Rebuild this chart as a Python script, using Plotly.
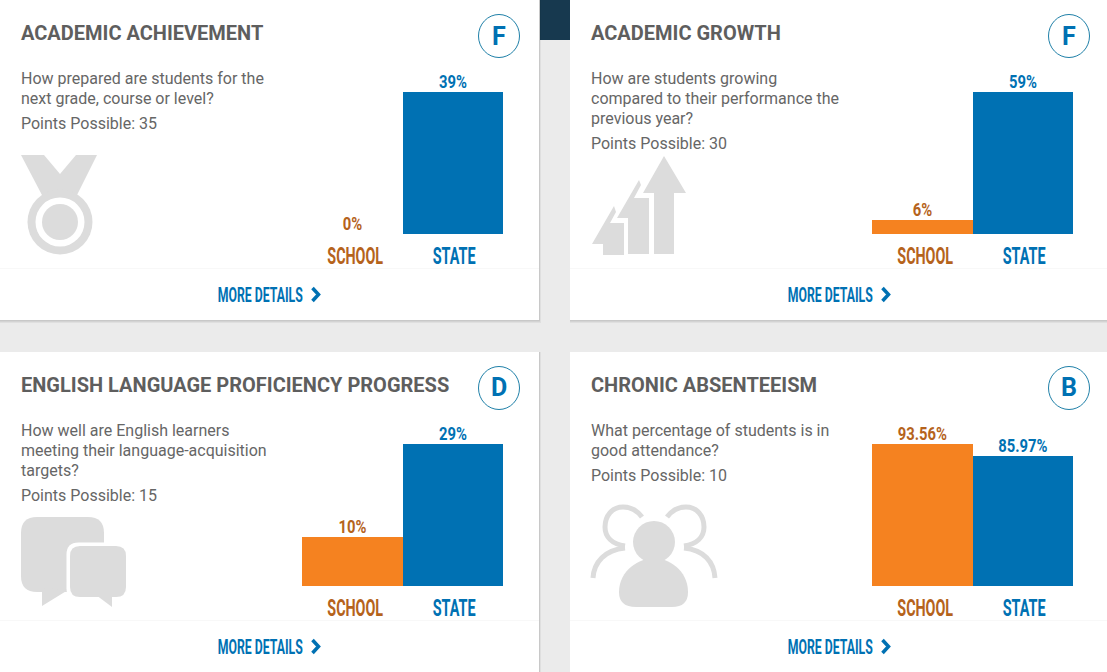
import plotly.graph_objects as go

W = 1107
H = 672

titles = ['ACADEMIC ACHIEVEMENT', 'ACADEMIC GROWTH', 'ENGLISH LANGUAGE PROFICIENCY PROGRESS', 'CHRONIC ABSENTEEISM']
questions = [
    ['How prepared are students for the', 'next grade, course or level?'],
    ['How are students growing', 'compared to their performance the', 'previous year?'],
    ['How well are English learners', 'meeting their language-acquisition', 'targets?'],
    ['What percentage of students is in', 'good attendance?'],
]
points = [35, 30, 15, 10]
grades = ['F', 'F', 'D', 'B']
categories = ['SCHOOL', 'STATE']
school_values = [0, 6, 10, 93.56]
state_values = [39, 59, 29, 85.97]
school_labels = ['0%', '6%', '10%', '93.56%']
state_labels = ['39%', '59%', '29%', '85.97%']

offset_x = [0, 570, 0, 570]
offset_y = [0, 0, 352, 352]

ORANGE = '#f58220'
BLUE = '#0071b3'
BROWN = '#b5631c'
GREY_TEXT = '#666666'
ICON = '#dcdcdc'

fig = go.Figure()
shapes = []
annotations = []


def px_shape(**kw):
    shapes.append(dict(xref='x', yref='y', layer='below', **kw))


def fill_path(path, color=ICON):
    px_shape(type='path', path=path, fillcolor=color, line=dict(width=0))


def stroke_path(path, color=ICON, width=5):
    px_shape(type='path', path=path, line=dict(color=color, width=width))


def circle(cx, cy, r, color=ICON):
    px_shape(type='circle', x0=cx - r, x1=cx + r, y0=cy - r, y1=cy + r, fillcolor=color, line=dict(width=0))


def rect(x0, y0, x1, y1, color):
    px_shape(type='rect', x0=x0, x1=x1, y0=y0, y1=y1, fillcolor=color, line=dict(width=0))


def text(x, y, s, size, color, anchor='left'):
    annotations.append(dict(
        x=x / W, y=1 - y / H, xref='paper', yref='paper', text=s, showarrow=False,
        xanchor=anchor, yanchor='middle', borderpad=0,
        font=dict(family='Roboto', size=size, color=color),
    ))


def rounded(x0, y0, x1, y1, r):
    return (f'M{x0 + r},{y0} L{x1 - r},{y0} Q{x1},{y0} {x1},{y0 + r} L{x1},{y1 - r} Q{x1},{y1} {x1 - r},{y1} '
            f'L{x0 + r},{y1} Q{x0},{y1} {x0},{y1 - r} L{x0},{y0 + r} Q{x0},{y0} {x0 + r},{y0} Z')


# page furniture
rect(540, 0, 570, 40, '#17394f')
for i in range(4):
    ox, oy = offset_x[i], offset_y[i]
    right = 539 if ox == 0 else 1107
    rect(ox, oy, right + 2, oy + 323, 'rgba(0,0,0,0.05)')
    rect(ox, oy, right + 1, oy + 321.5, 'rgba(0,0,0,0.10)')
    rect(ox, oy, right, oy + 320, '#ffffff')
    rect(ox, oy + 268, right, oy + 269, '#f8f8f8')

    # grade badge
    cx = 499 + ox
    px_shape(type='circle', x0=cx - 20.5, x1=cx + 20.5, y0=oy + 14.5, y1=oy + 57.5, fillcolor='#ffffff',
             line=dict(color='#1f80a8', width=1))
    text(cx, oy + 36, f'<b>{grades[i]}</b>', 25, BLUE, 'center')

    text(20 + ox, oy + 33, f'<b>{titles[i]}</b>', 20, '#5e5e5e')
    for j, line in enumerate(questions[i]):
        text(20 + ox, oy + 78.4 + 20 * j, line, 16, GREY_TEXT)
    text(20 + ox, oy + 83 + 20 * len(questions[i]), f'Points Possible: {points[i]}', 16, GREY_TEXT)

    text(260.5 + ox, oy + 295, '<b>MORE DETAILS</b>', 20, BLUE, 'center')
    stroke_path(f'M{312.5 + ox},{oy + 288} L{318.5 + ox},{oy + 294.5} L{312.5 + ox},{oy + 301}', BLUE, 3.5)

# medal
fill_path('M21,155 L44,155 L60,174 L76,155 L97,155 L76,197 L43,197 Z')
circle(60, 222, 32.5)
circle(60, 222, 24.5, '#ffffff')
circle(60, 222, 18)

# arrows
fill_path('M664,156 L686,193 L674,193 L674,254 L654,254 L654,193 L643,193 Z')
fill_path('M639,180 L641,185 L634,198 L649,198 L649,254 L628,254 L628,218 L617,218 Z')
fill_path('M614,206 L616,212 L610,223 L624,223 L624,255 L603,255 L603,244 L592,244 Z')

# speech bubbles
fill_path(rounded(21, 517, 104, 592, 16))
fill_path('M42,588 L42,606 L68,590 Z')
fill_path(rounded(66.5, 542.5, 129.5, 600.5, 12), '#ffffff')
fill_path(rounded(70, 546, 126, 597, 10))
fill_path('M96,595 L112,607 L112,595 Z')

# people
left_head = 'M642,517 C636,509 629,507 623,507 C612,507 605,516 605,527 C605,537 612,544 625,546'
left_arm = 'M625,548 C605,550 594,562 593,578'
right_head = 'M667,517 C673,509 680,507 686,507 C697,507 704,516 704,527 C704,537 697,544 684,546'
right_arm = 'M684,548 C704,550 714,562 715,578'
for p in [left_head, left_arm, right_head, right_arm]:
    stroke_path(p)
circle(654, 542, 21)
fill_path('M619,592 C619,570 640,558 654,558 C668,558 688,570 688,592 Q688,607 672,607 L636,607 Q619,607 619,592 Z')

# overlay in page pixels, sits under the bars
fig.add_trace(go.Scatter(x=[None], y=[None], xaxis='x', yaxis='y', showlegend=False, hoverinfo='skip'))

layout_axes = dict(
    xaxis=dict(domain=[0, 1], range=[0, W], visible=False, fixedrange=True),
    yaxis=dict(domain=[0, 1], range=[H, 0], visible=False, fixedrange=True),
)

for i in range(4):
    n = i + 2
    ox, oy = offset_x[i], offset_y[i]
    values = [school_values[i], state_values[i]]
    fig.add_trace(go.Bar(
        x=categories, y=values, xaxis=f'x{n}', yaxis=f'y{n}',
        marker=dict(color=[ORANGE, BLUE], line=dict(width=0)),
        text=[f'<b>{school_labels[i]}</b>', f'<b>{state_labels[i]}</b>'],
        textposition='outside', cliponaxis=False,
        textfont=dict(family='Roboto', size=18.5, color=[BROWN, BLUE]),
        showlegend=False,
    ))
    layout_axes[f'xaxis{n}'] = dict(
        domain=[(301.9 + ox) / W, (502.9 + ox) / W], anchor=f'y{n}', type='category',
        categoryorder='array', categoryarray=categories,
        tickmode='array', tickvals=categories,
        ticktext=[f'<b><span style="color:{BROWN}">SCHOOL</span></b>', f'<b><span style="color:{BLUE}">STATE</span></b>'],
        tickfont=dict(family='Roboto', size=23.5), ticklabelstandoff=6,
        showgrid=False, showline=False, zeroline=False, ticks='', fixedrange=True,
    )
    layout_axes[f'yaxis{n}'] = dict(
        domain=[1 - (234 + oy) / H, 1 - (92 + oy) / H], anchor=f'x{n}',
        range=[0, max(values)], visible=False, fixedrange=True,
    )

fig.update_layout(
    width=W, height=H, margin=dict(l=0, r=0, t=0, b=0, pad=0),
    paper_bgcolor='#ebebeb', plot_bgcolor='rgba(0,0,0,0)',
    bargap=0, shapes=shapes, annotations=annotations,
    font=dict(family='Roboto'), **layout_axes,
)

# no condensed face is installed, so squeeze the poster-style labels sideways
squeeze = """
document.body.style.margin='0';document.body.style.overflow='hidden';
setTimeout(function(){
  document.querySelectorAll('[class$="tick"] text, .bartext, .annotation-text').forEach(function(t){
    var s=t.textContent.trim(), w=null, dx=0, dy=0;
    if(s==='SCHOOL'){w=56;dx=3;}
    else if(s==='STATE'){w=43;dx=1.5;}
    else if(s==='MORE DETAILS'){w=85;}
    else if(s.endsWith('%')){w=t.getBBox().width*0.8;dy=4;}
    if(w===null)return;
    var b=t.getBBox(), c=b.x+b.width/2;
    var old=t.getAttribute('transform')||'';
    t.setAttribute('transform','translate('+dx+','+dy+') '+old+' translate('+c+',0) scale('+(w/b.width)+',1) translate('+(-c)+',0)');
  });
},50);
"""
fig.write_html('out.html', config=dict(displayModeBar=False), post_script=squeeze)
